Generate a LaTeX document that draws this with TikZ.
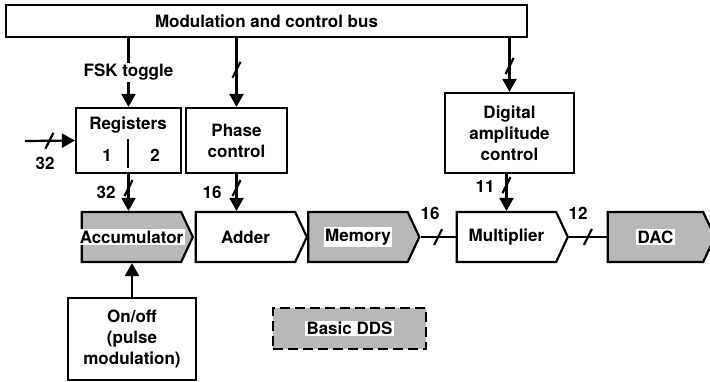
\documentclass[tikz,border=0pt]{standalone}
\usepackage{fontspec}
\setmainfont{TeX Gyre Heros}
\usetikzlibrary{arrows.meta,shapes.symbols}

\tikzset{
  box/.style={draw, line width=2.2pt, inner sep=0pt, align=center},
  stage/.style={box, shape=signal, signal to=east, signal pointer angle=130,
    minimum width=111, minimum height=50},
  shaded/.style={fill=black!28},
  tag/.style={fill=white, inner sep=1.5pt},
  conn/.style={line width=2.2pt, -{Triangle[length=13pt,width=14pt]}},
  wire/.style={line width=2.2pt},
  busmark/.pic={\draw[line width=2.2pt, -] (-4,8) -- (4,-8);}
}

\begin{document}
\begin{tikzpicture}[x=1pt, y=-1pt, font=\fontsize{17}{21}\selectfont\bfseries]
            \useasboundingbox (0,0) rectangle (710,381);

            % Control bus
            \node[box, minimum width=521, minimum height=32] (bus) at (266.5,21) {Modulation and control bus};

            % Control blocks
            \node[box, minimum width=105, minimum height=65] (reg) at (128.5,140.5) {};
            \node (regname) at (128,125) {Registers};
            \node (reg1) at (107,155) {1};
            \node (reg2) at (155,155) {2};
            \draw[line width=1.4pt] (128,139) -- (128,168);
            \node[box, minimum width=101, minimum height=65] (phase) at (236.5,140.5) {Phase\\control};
            \node[box, minimum width=129, minimum height=80] (dig) at (509.5,133) {Digital\\amplitude\\control};
            \node[box, minimum width=128, minimum height=82] (onoff) at (132,339) {On/off\\(pulse\\modulation)};

            % Signal path
            \node[stage, shaded, label={[tag]center:Accumulator}] (acc) at (131.5,237) {};
            \node[stage] (adder) at (245.5,237) {Adder};
            \node[stage, shaded, label={[tag]center:Memory}] (mem) at (358,237) {};
            \node[stage] (mult) at (506.5,237) {Multiplier};
            \node[stage, minimum width=107, shaded, label={[tag]center:DAC}] (dac) at (655.5,237) {};

            % Legend
            \node[box, dashed, dash pattern=on 10pt off 5pt, shaded, minimum width=153, minimum height=41,
              label={[tag]center:Basic DDS}] (dds) at (349.5,328.5) {};

            % Connections from the bus
            \draw[conn] (bus.south -| reg.north) -- node[tag] (fsk) {FSK toggle} (reg.north);
            \draw[conn] (bus.south -| phase.north) -- pic[pos=0.46]{busmark} (phase.north);
            \draw[conn] (bus.south -| dig.north) -- pic[pos=0.52]{busmark} (dig.north);

            % Input word
            \coordinate (in32) at (25,141);
            \draw[conn] (in32) -- pic[pos=0.49]{busmark} (reg.west);
            \node (nin) at (45,163) {32};

            % Into the signal path
            \draw[conn] (reg.south) -- pic[pos=0.38]{busmark} (reg.south |- acc.north);
            \node (nreg) at (106,192) {32};
            \draw[conn] (phase.south) -- pic[pos=0.38]{busmark} (phase.south |- adder.north);
            \node (nphase) at (212,192) {16};
            \draw[conn] (mult.north |- dig.south) -- pic[pos=0.3]{busmark} (mult.north);
            \node (ndig) at (485,186) {11};
            \draw[conn] (onoff.north) -- (onoff.north |- acc.south);

            % Data words
            \draw[wire] (mem.east) -- pic{busmark} (mult.west);
            \node (nmem) at (430,213) {16};
            \draw[wire] (mult.east) -- pic{busmark} (dac.west);
            \node (nmult) at (578,213) {12};
\end{tikzpicture}
\end{document}
